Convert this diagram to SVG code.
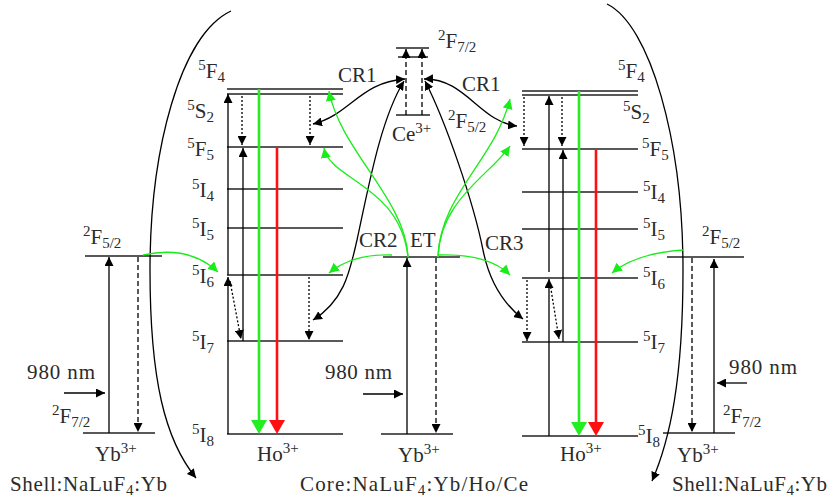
<svg xmlns="http://www.w3.org/2000/svg" width="829" height="502" viewBox="0 0 829 502" font-family="'Liberation Serif', 'Times New Roman', serif">
<style>
.lv{stroke:#222;stroke-width:1.5;fill:none}
.ar{stroke:#000;stroke-width:1.3;fill:none;marker-end:url(#ah)}
.dt{stroke:#000;stroke-width:1.3;fill:none;stroke-dasharray:2 2;marker-end:url(#ah)}
.ds{stroke:#000;stroke-width:1.3;fill:none;stroke-dasharray:5 3;marker-end:url(#ah)}
.cv{stroke:#000;stroke-width:1.3;fill:none;marker-end:url(#ah)}
.cv2{stroke:#000;stroke-width:1.3;fill:none;marker-end:url(#ah);marker-start:url(#ah)}
.gc{stroke:#1aec1a;stroke-width:1.3;fill:none;marker-end:url(#gah)}
.ge{stroke:#22ee22;stroke-width:2.6;fill:none;marker-end:url(#GAH)}
.re{stroke:#ff1010;stroke-width:2.6;fill:none;marker-end:url(#RAH)}
.arc{stroke:#000;stroke-width:1.3;fill:none;marker-end:url(#ah)}
text{font-family:"Liberation Serif","Times New Roman",serif;font-size:21px;fill:#2b2b2b}
.s{font-size:15px}
</style>
<defs>
<marker id="ah" viewBox="0 0 10 10" refX="10" refY="5" markerWidth="9" markerHeight="9" markerUnits="userSpaceOnUse" orient="auto-start-reverse"><path d="M0,0 L10,5 L0,10 z" fill="#000"/></marker>
<marker id="gah" viewBox="0 0 10 10" refX="10" refY="5" markerWidth="10" markerHeight="10" markerUnits="userSpaceOnUse" orient="auto-start-reverse"><path d="M0,0 L10,5 L0,10 z" fill="#1aec1a"/></marker>
<marker id="GAH" viewBox="0 0 14 16" refX="1" refY="8" markerWidth="14" markerHeight="16" markerUnits="userSpaceOnUse" orient="auto"><path d="M0,0 L14,8 L0,16 z" fill="#22ee22"/></marker>
<marker id="RAH" viewBox="0 0 14 16" refX="1" refY="8" markerWidth="14" markerHeight="16" markerUnits="userSpaceOnUse" orient="auto"><path d="M0,0 L14,8 L0,16 z" fill="#ff1010"/></marker>
</defs>

<g id="yb-left">
<line class="lv" x1="85" y1="256" x2="162" y2="256"/>
<line class="lv" x1="83" y1="433" x2="155" y2="433"/>
<line class="ar" x1="109" y1="433" x2="109" y2="257"/>
<line class="ds" x1="138" y1="257" x2="138" y2="432"/>
<line class="ar" x1="64" y1="393" x2="105" y2="393"/>
<text x="83" y="244"><tspan class="s" dy="-8">2</tspan><tspan dy="8">F</tspan><tspan class="s" dy="4">5/2</tspan></text>
<text x="52" y="423"><tspan class="s" dy="-8">2</tspan><tspan dy="8">F</tspan><tspan class="s" dy="4">7/2</tspan></text>
<text x="27" y="379" textLength="68">980 nm</text>
<text x="95" y="461">Yb<tspan class="s" dy="-8">3+</tspan></text>
<text x="10" y="491" textLength="157">Shell:NaLuF<tspan class="s" dy="4">4</tspan><tspan dy="-4">:Yb</tspan></text>
</g>

<g id="ho-left">
<line class="lv" x1="227" y1="89" x2="343" y2="89"/>
<line class="lv" x1="227" y1="94" x2="343" y2="94"/>
<line class="lv" x1="227" y1="147" x2="343" y2="147"/>
<line class="lv" x1="227" y1="189" x2="343" y2="189"/>
<line class="lv" x1="227" y1="228" x2="343" y2="228"/>
<line class="lv" x1="227" y1="275" x2="343" y2="275"/>
<line class="lv" x1="227" y1="341" x2="343" y2="341"/>
<line class="lv" x1="227" y1="434" x2="343" y2="434"/>
<line class="ar" x1="228" y1="434" x2="228" y2="277"/>
<line class="ar" x1="228" y1="275" x2="228" y2="94"/>
<line class="ar" x1="243" y1="341" x2="243" y2="148"/>
<line class="dt" x1="242" y1="96" x2="242" y2="145"/>
<line class="dt" x1="230" y1="281" x2="241" y2="339"/>
<line class="dt" x1="310" y1="96" x2="310" y2="145"/>
<line class="dt" x1="309" y1="277" x2="309" y2="340"/>
<line class="ge" x1="259" y1="89" x2="259" y2="421"/>
<line class="re" x1="277" y1="147" x2="277" y2="421"/>
<text x="225" y="78" text-anchor="end"><tspan class="s" dy="-8">5</tspan><tspan dy="8">F</tspan><tspan class="s" dy="4">4</tspan></text>
<text x="214" y="118" text-anchor="end"><tspan class="s" dy="-8">5</tspan><tspan dy="8">S</tspan><tspan class="s" dy="4">2</tspan></text>
<text x="214" y="156" text-anchor="end"><tspan class="s" dy="-8">5</tspan><tspan dy="8">F</tspan><tspan class="s" dy="4">5</tspan></text>
<text x="214" y="197" text-anchor="end"><tspan class="s" dy="-8">5</tspan><tspan dy="8">I</tspan><tspan class="s" dy="4">4</tspan></text>
<text x="214" y="236" text-anchor="end"><tspan class="s" dy="-8">5</tspan><tspan dy="8">I</tspan><tspan class="s" dy="4">5</tspan></text>
<text x="214" y="283" text-anchor="end"><tspan class="s" dy="-8">5</tspan><tspan dy="8">I</tspan><tspan class="s" dy="4">6</tspan></text>
<text x="214" y="349" text-anchor="end"><tspan class="s" dy="-8">5</tspan><tspan dy="8">I</tspan><tspan class="s" dy="4">7</tspan></text>
<text x="214" y="442" text-anchor="end"><tspan class="s" dy="-8">5</tspan><tspan dy="8">I</tspan><tspan class="s" dy="4">8</tspan></text>
<text x="257" y="461">Ho<tspan class="s" dy="-8">3+</tspan></text>
</g>

<g id="ce">
<line class="lv" x1="396" y1="48" x2="429" y2="48" stroke-width="2"/>
<line class="lv" x1="398" y1="57" x2="428" y2="57"/>
<line class="lv" x1="396" y1="115" x2="430" y2="115"/>
<line class="ds" x1="406" y1="115" x2="406" y2="49"/>
<line class="ds" x1="422" y1="115" x2="422" y2="49"/>
<text x="438" y="48"><tspan class="s" dy="-8">2</tspan><tspan dy="8">F</tspan><tspan class="s" dy="4">7/2</tspan></text>
<text x="392" y="141">Ce<tspan class="s" dy="-8">3+</tspan></text>
<text x="448" y="128"><tspan class="s" dy="-8">2</tspan><tspan dy="8">F</tspan><tspan class="s" dy="4">5/2</tspan></text>
</g>

<g id="yb-center">
<line class="lv" x1="383" y1="257" x2="460" y2="257"/>
<line class="lv" x1="381" y1="434" x2="453" y2="434"/>
<line class="ar" x1="407" y1="434" x2="407" y2="258"/>
<line class="ds" x1="436" y1="258" x2="436" y2="433"/>
<line class="ar" x1="363" y1="394" x2="403" y2="394"/>
<text x="325" y="379" textLength="67">980 nm</text>
<text x="398" y="462">Yb<tspan class="s" dy="-8">3+</tspan></text>
<text x="300" y="491" textLength="228">Core:NaLuF<tspan class="s" dy="4">4</tspan><tspan dy="-4">:Yb/Ho/Ce</tspan></text>
</g>

<g id="ho-right">
<line class="lv" x1="522" y1="91" x2="638" y2="91"/>
<line class="lv" x1="522" y1="95" x2="638" y2="95"/>
<line class="lv" x1="522" y1="149" x2="638" y2="149"/>
<line class="lv" x1="522" y1="192" x2="638" y2="192"/>
<line class="lv" x1="522" y1="229" x2="638" y2="229"/>
<line class="lv" x1="522" y1="278" x2="638" y2="278"/>
<line class="lv" x1="522" y1="342" x2="638" y2="342"/>
<line class="lv" x1="522" y1="436" x2="638" y2="436"/>
<line class="dt" x1="524" y1="97" x2="524" y2="146"/>
<line class="dt" x1="562" y1="97" x2="562" y2="146"/>
<line class="ar" x1="549" y1="436" x2="549" y2="279"/>
<line class="ar" x1="549" y1="272" x2="549" y2="96"/>
<line class="ar" x1="563" y1="342" x2="563" y2="150"/>
<line class="dt" x1="527" y1="280" x2="527" y2="341"/>
<line class="dt" x1="550" y1="283" x2="559" y2="339"/>
<line class="ge" x1="579" y1="91" x2="579" y2="423"/>
<line class="re" x1="596" y1="149" x2="596" y2="423"/>
<text x="618" y="78"><tspan class="s" dy="-8">5</tspan><tspan dy="8">F</tspan><tspan class="s" dy="4">4</tspan></text>
<text x="623" y="119"><tspan class="s" dy="-8">5</tspan><tspan dy="8">S</tspan><tspan class="s" dy="4">2</tspan></text>
<text x="642" y="156"><tspan class="s" dy="-8">5</tspan><tspan dy="8">F</tspan><tspan class="s" dy="4">5</tspan></text>
<text x="643" y="199"><tspan class="s" dy="-8">5</tspan><tspan dy="8">I</tspan><tspan class="s" dy="4">4</tspan></text>
<text x="643" y="236"><tspan class="s" dy="-8">5</tspan><tspan dy="8">I</tspan><tspan class="s" dy="4">5</tspan></text>
<text x="643" y="285"><tspan class="s" dy="-8">5</tspan><tspan dy="8">I</tspan><tspan class="s" dy="4">6</tspan></text>
<text x="643" y="349"><tspan class="s" dy="-8">5</tspan><tspan dy="8">I</tspan><tspan class="s" dy="4">7</tspan></text>
<text x="638" y="443"><tspan class="s" dy="-8">5</tspan><tspan dy="8">I</tspan><tspan class="s" dy="4">8</tspan></text>
<text x="560" y="461">Ho<tspan class="s" dy="-8">3+</tspan></text>
</g>

<g id="yb-right">
<line class="lv" x1="667" y1="257" x2="744" y2="257"/>
<line class="lv" x1="663" y1="433" x2="735" y2="433"/>
<line class="ds" x1="692" y1="258" x2="692" y2="432"/>
<line class="ar" x1="714" y1="433" x2="714" y2="259"/>
<line class="ar" x1="747" y1="383" x2="717" y2="383"/>
<text x="702" y="244"><tspan class="s" dy="-8">2</tspan><tspan dy="8">F</tspan><tspan class="s" dy="4">5/2</tspan></text>
<text x="723" y="423"><tspan class="s" dy="-8">2</tspan><tspan dy="8">F</tspan><tspan class="s" dy="4">7/2</tspan></text>
<text x="729" y="374" textLength="68">980 nm</text>
<text x="677" y="462">Yb<tspan class="s" dy="-8">3+</tspan></text>
<text x="672" y="491" textLength="155">Shell:NaLuF<tspan class="s" dy="4">4</tspan><tspan dy="-4">:Yb</tspan></text>
</g>

<g id="connectors">
<path class="arc" d="M231 11 C180 35 150 150 150 270 C150 380 165 440 196 478"/>
<path class="arc" d="M607 4 C650 25 683 140 683 270 C683 380 670 440 652 481"/>
<path class="cv2" d="M313 124 C350 115 360 82 405 79"/>
<path class="cv2" d="M424 79 C465 78 480 122 517 126"/>
<path class="cv" d="M357 240 C368 190 380 120 404 81"/>
<path class="cv" d="M357 240 C350 270 345 300 313 320"/>
<path class="cv" d="M483 250 C473 200 445 120 425 81"/>
<path class="cv" d="M483 250 C490 285 505 305 523 319"/>
<path class="gc" d="M143 255 C175 248 200 255 218 272"/>
<path class="gc" d="M683 250 C655 252 630 258 612 273"/>
<path class="gc" d="M392 255 C365 254 345 260 329 273"/>
<path class="gc" d="M408 257 C406 200 340 150 329 91"/>
<path class="gc" d="M408 257 C400 185 330 180 324 148"/>
<path class="gc" d="M438 255 C470 254 495 260 510 275"/>
<path class="gc" d="M438 257 C440 195 495 160 510 99"/>
<path class="gc" d="M438 257 C440 200 490 175 510 146"/>
<text x="338" y="82">CR1</text>
<text x="462" y="91">CR1</text>
<text x="359" y="247">CR2</text>
<text x="410" y="247">ET</text>
<text x="485" y="250">CR3</text>
</g>
</svg>
